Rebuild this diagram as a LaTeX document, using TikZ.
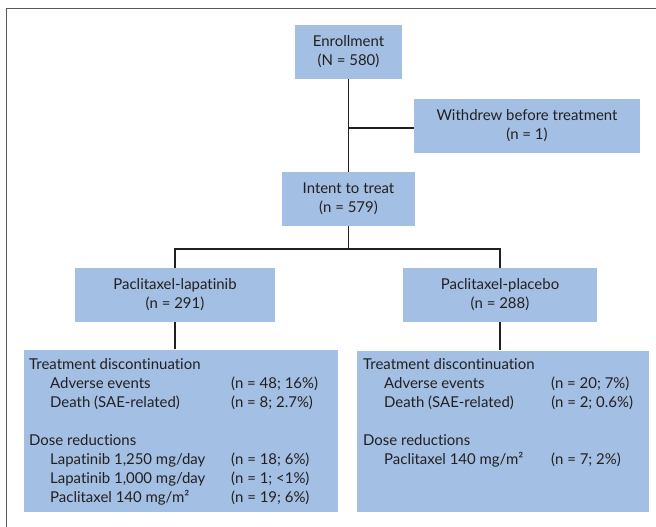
\documentclass[tikz,border=0pt]{standalone}
\usepackage{fontspec}
\setmainfont[Ligatures=NoCommon]{Lato}
\definecolor{boxblue}{RGB}{163,191,227}
\definecolor{ink}{RGB}{35,31,32}
\begin{document}
\begin{tikzpicture}[x=1bp,y=-1bp,
  every node/.style={font=\fontsize{15}{19}\selectfont, text=ink},
  pbox/.style={fill=boxblue, draw=none, inner sep=0pt, align=center, minimum height=54bp},
  bigbox/.style={fill=boxblue, draw=none, inner sep=0pt},
  list/.style={inner sep=0pt, align=left, anchor=north west, font=\fontsize{15}{19.1}\selectfont},
  link/.style={draw=ink, line width=1.6bp},
  frame/.style={draw=black!65, line width=1bp}]
\useasboundingbox (0,0) rectangle (656,527);
\draw[frame] (6.5,530) -- (6.5,8.5) -- (660,8.5);

\node[pbox, minimum width=107bp] (enroll) at (348.5,52) {Enrollment\\(N = 580)};
\node[pbox, minimum width=226bp] (withdrew) at (527,126) {Withdrew before treatment\\(n = 1)};
\node[pbox, minimum width=133bp] (itt) at (348.5,199) {Intent to treat\\(n = 579)};
\node[pbox, minimum width=200bp] (lap) at (175,295) {Paclitaxel-lapatinib\\(n = 291)};
\node[pbox, minimum width=194bp] (plac) at (500,295) {Paclitaxel-placebo\\(n = 288)};
\node[bigbox, minimum width=314bp, minimum height=162bp] (lapbox) at (181,430.5) {};
\node[bigbox, minimum width=292bp, minimum height=161bp] (placbox) at (503,431) {};

\node[list] (laptext) at (29,358.5) {Treatment discontinuation\\
\makebox[202bp][l]{\hspace{21bp}Adverse events}(n = 48; 16\%)\\
\makebox[202bp][l]{\hspace{21bp}Death (SAE-related)}(n = 8; 2.7\%)\\[19.1bp]
Dose reductions\\
\makebox[202bp][l]{\hspace{21bp}Lapatinib 1,250 mg/day}(n = 18; 6\%)\\
\makebox[202bp][l]{\hspace{21bp}Lapatinib 1,000 mg/day}(n = 1; <1\%)\\
\makebox[202bp][l]{\hspace{21bp}Paclitaxel 140 mg/m²}(n = 19; 6\%)};

\node[list] (plactext) at (363,358.5) {Treatment discontinuation\\
\makebox[188bp][l]{\hspace{21bp}Adverse events}(n = 20; 7\%)\\
\makebox[188bp][l]{\hspace{21bp}Death (SAE-related)}(n = 2; 0.6\%)\\[19.1bp]
Dose reductions\\
\makebox[188bp][l]{\hspace{21bp}Paclitaxel 140 mg/m²}(n = 7; 2\%)};

\coordinate (wj) at (348.5,128);
\coordinate (sp) at (348.5,249);
\draw[link] (enroll.south) -- (itt.north);
\draw[link] (wj) -- (wj -| withdrew.west);
\draw[link] (itt.south) -- (sp);
\draw[link] (lap.north) |- (sp) -| (plac.north);
\draw[link] (lap.south) -- (lap.south |- lapbox.north);
\draw[link] (plac.south) -- (plac.south |- placbox.north);
\end{tikzpicture}
\end{document}
